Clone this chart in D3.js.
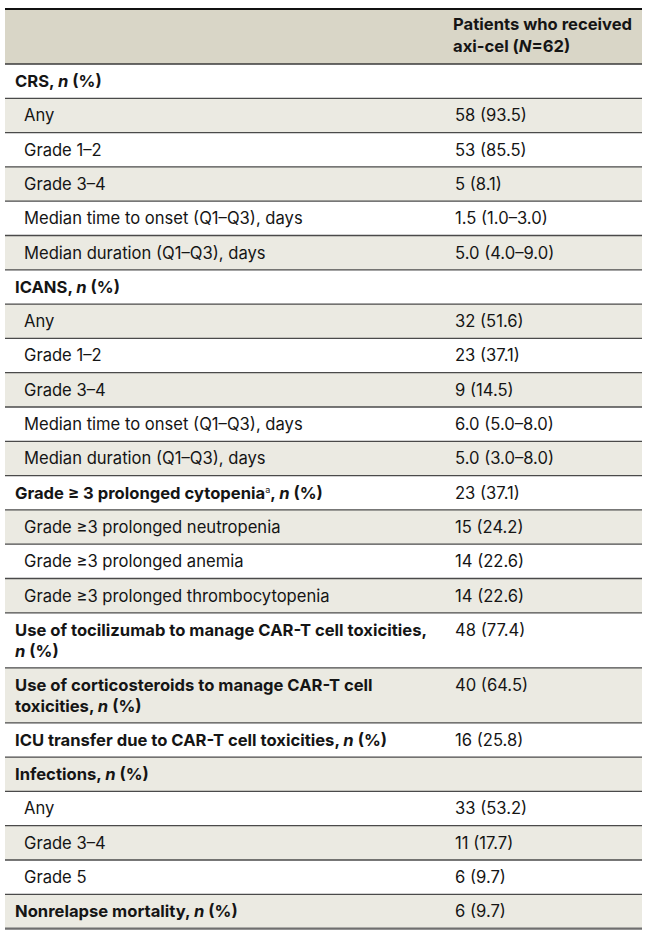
<!DOCTYPE html>
<html>
<head>
<meta charset="utf-8">
<script src="https://cdn.jsdelivr.net/npm/d3@7/dist/d3.min.js"></script>
<style>
  html, body { margin: 0; padding: 0; background: #fff; }
  svg text { font-family: Inter, Roboto, "Liberation Sans", sans-serif; }
</style>
</head>
<body>
<svg id="chart" width="648" height="937"></svg>
<script>
// ---- Data ----
const headerLines = ["Patients who received", "axi-cel (N=62)"];
const labels = [
  "CRS, n (%)",
  "Any",
  "Grade 1–2",
  "Grade 3–4",
  "Median time to onset (Q1–Q3), days",
  "Median duration (Q1–Q3), days",
  "ICANS, n (%)",
  "Any",
  "Grade 1–2",
  "Grade 3–4",
  "Median time to onset (Q1–Q3), days",
  "Median duration (Q1–Q3), days",
  "Grade ≥ 3 prolonged cytopenia, n (%)",
  "Grade ≥3 prolonged neutropenia",
  "Grade ≥3 prolonged anemia",
  "Grade ≥3 prolonged thrombocytopenia",
  "Use of tocilizumab to manage CAR-T cell toxicities,\nn (%)",
  "Use of corticosteroids to manage CAR-T cell\ntoxicities, n (%)",
  "ICU transfer due to CAR-T cell toxicities, n (%)",
  "Infections, n (%)",
  "Any",
  "Grade 3–4",
  "Grade 5",
  "Nonrelapse mortality, n (%)"
];
const values = [
  "", "58 (93.5)", "53 (85.5)", "5 (8.1)", "1.5 (1.0–3.0)", "5.0 (4.0–9.0)",
  "", "32 (51.6)", "23 (37.1)", "9 (14.5)", "6.0 (5.0–8.0)", "5.0 (3.0–8.0)",
  "23 (37.1)", "15 (24.2)", "14 (22.6)", "14 (22.6)",
  "48 (77.4)", "40 (64.5)", "16 (25.8)",
  "", "33 (53.2)", "11 (17.7)", "6 (9.7)", "6 (9.7)"
];
const levels = [0,1,1,1,1,1, 0,1,1,1,1,1, 0,1,1,1, 0,0,0, 0,1,1,1, 0];
const footnoteMarks = {12: "a"};

// ---- Layout ----
const svg = d3.select("#chart");
const leftX = 5, rightX = 642, topY = 9;
const valueX = 455;
const headerH = 55, lineH = 34.3, extraLine = 20.7;
const fs = 16.6;

const rows = labels.map((l, i) => {
  const lines = l.split("\n");
  return {label: lines, value: values[i], level: levels[i], mark: footnoteMarks[i] || null,
          h: lineH + (lines.length - 1) * extraLine};
});
let acc = topY + headerH;
rows.forEach(r => { r.y = acc; acc += r.h; });
const bottomY = acc;

const x = d3.scaleLinear().domain([0, 1]).range([leftX, rightX]);

// header background
svg.append("rect").attr("x", x(0)).attr("y", topY).attr("width", x(1) - x(0)).attr("height", headerH)
  .attr("fill", "#d9d6c7");

// row backgrounds
svg.selectAll("rect.row").data(rows).join("rect")
  .attr("class", "row")
  .attr("x", x(0)).attr("y", d => d.y).attr("width", x(1) - x(0)).attr("height", d => d.h)
  .attr("fill", (d, i) => i % 2 === 1 ? "#ebeae2" : "#ffffff");

// lines
svg.selectAll("line.sep").data(rows.slice(0, -1)).join("line")
  .attr("class", "sep")
  .attr("x1", x(0)).attr("x2", x(1))
  .attr("y1", d => d.y + d.h).attr("y2", d => d.y + d.h)
  .attr("stroke", "#4a4a4a").attr("stroke-width", 1.3);
svg.append("line").attr("x1", x(0)).attr("x2", x(1)).attr("y1", topY + headerH).attr("y2", topY + headerH)
  .attr("stroke", "#3a3a3a").attr("stroke-width", 1.6);
svg.append("line").attr("x1", x(0)).attr("x2", x(1)).attr("y1", topY).attr("y2", topY)
  .attr("stroke", "#111").attr("stroke-width", 2);
svg.append("line").attr("x1", x(0)).attr("x2", x(1)).attr("y1", bottomY).attr("y2", bottomY)
  .attr("stroke", "#6f6f6f").attr("stroke-width", 2.2);

// helper: add text with italic n / N
function addRich(textSel, str, firstDy) {
  const parts = str.split(/(\bn\b|\bN\b)/).filter(p => p !== "");
  parts.forEach((p, k) => {
    const t = textSel.append("tspan").text(p);
    if (p === "n" || p === "N") t.attr("font-style", "italic");
    if (k === 0 && firstDy) t.attr("dy", firstDy);
  });
}

// header text
headerLines.forEach((ln, i) => {
  const t = svg.append("text").attr("x", 453).attr("y", topY + 21 + i * 21.5)
    .attr("font-size", fs).attr("font-weight", 700).attr("fill", "#151515");
  addRich(t, ln);
});

// row text
rows.forEach(r => {
  r.label.forEach((ln, j) => {
    const t = svg.append("text")
      .attr("x", r.level === 0 ? 15 : 24)
      .attr("y", r.y + 23 + j * 21)
      .attr("font-size", fs)
      .attr("font-weight", r.level === 0 ? 700 : 400)
      .attr("fill", "#151515");
    if (r.mark && j === 0) {
      const idx = ln.indexOf(",");
      addRich(t, ln.slice(0, idx));
      t.append("tspan").text(r.mark).attr("font-size", 9).attr("font-weight", 400).attr("dy", -6);
      addRich(t, ln.slice(idx), 6);
    } else {
      addRich(t, ln);
    }
  });
  if (r.value) {
    svg.append("text").attr("x", valueX).attr("y", r.y + 23)
      .attr("font-size", fs).attr("fill", "#151515").text(r.value);
  }
});
</script>
</body>
</html>
